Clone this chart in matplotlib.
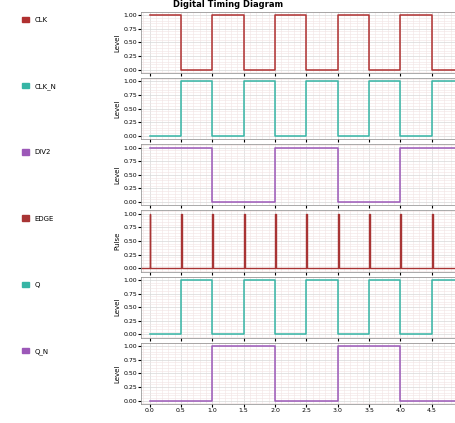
import matplotlib
matplotlib.use("Agg")
import matplotlib.pyplot as plt
from matplotlib.patches import Patch

# edge times and logic levels (levels hold until next edge)
clk_t = [0.0, 0.5, 1.0, 1.5, 2.0, 2.5, 3.0, 3.5, 4.0, 4.5, 5.0]
clk_v = [1, 0, 1, 0, 1, 0, 1, 0, 1, 0, 1]
clkn_v = [0, 1, 0, 1, 0, 1, 0, 1, 0, 1, 0]
div_t = [0.0, 1.0, 2.0, 3.0, 4.0, 5.0]
div_v = [1, 0, 1, 0, 1, 0]
divn_v = [0, 1, 0, 1, 0, 1]
pulse_t = [0.0, 0.5, 1.0, 1.5, 2.0, 2.5, 3.0, 3.5, 4.0, 4.5]
pulse_w = 0.015

names = ["CLK", "CLK_N", "DIV2", "EDGE", "Q", "Q_N"]
ylabels = ["Level", "Level", "Level", "Pulse", "Level", "Level"]
colors = ["#b03030", "#36b5a5", "#9c58b8", "#a83434", "#36b5a5", "#9c58b8"]
title = "Digital Timing Diagram"
xticks = [0.0, 0.5, 1.0, 1.5, 2.0, 2.5, 3.0, 3.5, 4.0, 4.5]

plt.rcParams["font.size"] = 5

fig = plt.figure(figsize=(4.56, 4.23), dpi=100)
left, right, top, bottom = 0.31, 0.998, 0.972, 0.045
gap = 0.012
n = 6
h = (top - bottom - gap * (n - 1)) / n

axes = []
for i in range(n):
    y0 = top - (i + 1) * h - i * gap
    ax = fig.add_axes([left, y0, right - left, h], sharex=axes[0] if axes else None)
    axes.append(ax)

signals = [
    (clk_t, clk_v), (clk_t, clkn_v), (div_t, div_v), None,
    (clk_t, clkn_v), (div_t, divn_v),
]

for i, ax in enumerate(axes):
    c = colors[i]
    if signals[i] is not None:
        t, v = signals[i]
        ax.step(t, v, where="post", color=c, lw=1.1)
    else:
        ts, vs = [], []
        for p in pulse_t:
            ts += [p, p, p + pulse_w, p + pulse_w]
            vs += [0, 1, 1, 0]
        ax.plot([-0.13] + ts + [5.0], [0] + vs + [0], color=c, lw=1.0)
    ax.set_ylim(-0.06, 1.06)
    ax.set_yticks([0, 0.25, 0.5, 0.75, 1.0])
    ax.set_yticklabels(["0.00", "0.25", "0.50", "0.75", "1.00"])
    ax.set_ylabel(ylabels[i], fontsize=5, labelpad=2)
    ax.grid(True, color="#d8d8d8", lw=0.5)
    ax.minorticks_on()
    ax.grid(True, which="minor", color="#f2e4e4", lw=0.4)
    ax.tick_params(length=2, pad=1, labelsize=4.5)
    ax.tick_params(which="minor", length=0)
    for s in ax.spines.values():
        s.set_linewidth(0.5)
        s.set_color("#888888")
    ax.legend(handles=[Patch(color=c, label=names[i])], loc="upper left",
              bbox_to_anchor=(-0.40, 1.02), frameon=False, fontsize=5,
              handlelength=1.0, handleheight=0.8)
    if i < n - 1:
        ax.tick_params(labelbottom=False)

axes[0].set_xlim(-0.13, 4.87)
axes[-1].set_xticks(xticks)
fig.suptitle(title, x=0.5, y=0.999, va="top", fontsize=6, fontweight="bold")

fig.savefig("out.png", dpi=100)
